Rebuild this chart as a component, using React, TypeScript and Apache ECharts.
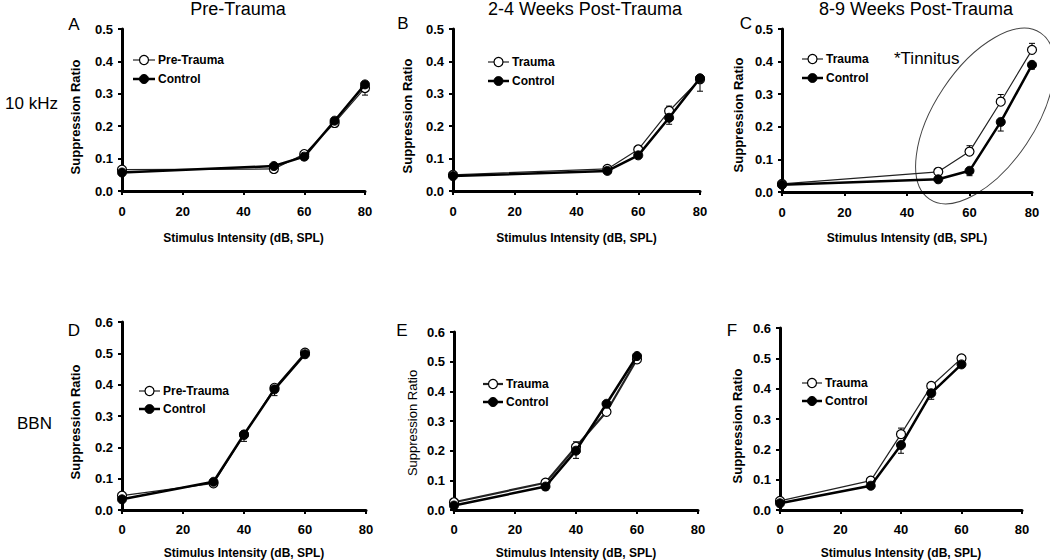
import React, { useEffect, useRef } from "react";
import * as echarts from "echarts";

// ---- data ----
const xTop = [0, 50, 60, 70, 80];
const xBottom = [0, 30, 40, 50, 60];

// Panel A (10 kHz, Pre-Trauma)
const aOpen = [0.066, 0.068, 0.114, 0.21, 0.318];
const aFilled = [0.057, 0.077, 0.106, 0.217, 0.329];
const aOpenErr = [0, 0, 0, -0.012, -0.022];
const aFilledErr = [0, 0, -0.01, 0, 0];

// Panel B (10 kHz, 2-4 weeks)
const bOpen = [0.05, 0.068, 0.128, 0.247, 0.345];
const bFilled = [0.046, 0.062, 0.11, 0.226, 0.348];
const bOpenErr = [0, 0, 0.008, 0.015, 0];
const bFilledErr = [0, 0, 0, -0.02, -0.04];

// Panel C (10 kHz, 8-9 weeks)
const cOpen = [0.025, 0.062, 0.124, 0.277, 0.436];
const cFilled = [0.022, 0.039, 0.065, 0.215, 0.39];
const cOpenErr = [0, 0, 0.018, 0.022, 0.02];
const cFilledErr = [0, 0, -0.015, -0.028, -0.013];

// Panel D (BBN, Pre-Trauma)
const dOpen = [0.046, 0.085, 0.24, 0.39, 0.502];
const dFilled = [0.034, 0.09, 0.241, 0.385, 0.497];
const dOpenErr = [0, 0, 0, 0, 0];
const dFilledErr = [0, 0, -0.022, -0.02, 0];

// Panel E (BBN, 2-4 weeks)
const eOpen = [0.026, 0.092, 0.213, 0.331, 0.508];
const eFilled = [0.015, 0.079, 0.2, 0.358, 0.519];
const eOpenErr = [0, 0, 0.017, 0, 0];
const eFilledErr = [0, -0.012, -0.026, 0, 0];

// Panel F (BBN, 8-9 weeks)
const fOpen = [0.03, 0.097, 0.25, 0.409, 0.5];
const fFilled = [0.022, 0.08, 0.214, 0.385, 0.48];
const fOpenErr = [0, 0, 0.02, 0, 0];
const fFilledErr = [0, 0, -0.027, -0.02, -0.01];

const xTickInterval = 20;
const xMax = 80;
const yMaxTop = 0.5;
const yMaxBottom = 0.6;
const yTickInterval = 0.1;

const columnTitles = ["Pre-Trauma", "2-4 Weeks Post-Trauma", "8-9 Weeks Post-Trauma"];
const rowTitles = ["10 kHz", "BBN"];
const panelLetters = ["A", "B", "C", "D", "E", "F"];
const openNames = ["Pre-Trauma", "Trauma", "Trauma", "Pre-Trauma", "Trauma", "Trauma"];
const filledName = "Control";
const yTitle = "Suppression Ratio";
const xTitle = "Stimulus Intensity (dB, SPL)";
const noteText = "*Tinnitus";

// ---- layout ----
const FONT = "'Liberation Sans', Arial, Helvetica, sans-serif";
const grids = [
  { left: 122, top: 29, width: 243, height: 162 },
  { left: 453, top: 29, width: 247, height: 162 },
  { left: 782, top: 29, width: 250, height: 163 },
  { left: 122, top: 322, width: 244, height: 188 },
  { left: 454, top: 332, width: 244, height: 178 },
  { left: 780, top: 328, width: 242, height: 182 },
];
const letterPos = [
  [74, 24], [403, 23], [746, 23], [74, 330], [402, 330], [732, 330],
];
const yTitlePos = [
  [75, 117], [407, 116], [738, 115], [75, 422], [412, 423], [737, 426],
];
const legendPos = [
  // lineStart, textX, row1Y, row2Y
  [133, 158, 60, 79],
  [488, 512, 62, 81],
  [802, 826, 59, 78],
  [139, 163, 391, 409],
  [483, 506, 384, 402],
  [802, 825, 383, 401],
];

export default function App() {
  const ref = useRef<HTMLDivElement>(null);

  useEffect(() => {
    if (!ref.current) return;
    const chart = echarts.init(ref.current, undefined, { renderer: "svg" });

    const panels = [
      { x: xTop, open: aOpen, filled: aFilled, oe: aOpenErr, fe: aFilledErr, yMax: yMaxTop },
      { x: xTop, open: bOpen, filled: bFilled, oe: bOpenErr, fe: bFilledErr, yMax: yMaxTop },
      { x: xTop, open: cOpen, filled: cFilled, oe: cOpenErr, fe: cFilledErr, yMax: yMaxTop },
      { x: xBottom, open: dOpen, filled: dFilled, oe: dOpenErr, fe: dFilledErr, yMax: yMaxBottom },
      { x: xBottom, open: eOpen, filled: eFilled, oe: eOpenErr, fe: eFilledErr, yMax: yMaxBottom },
      { x: xBottom, open: fOpen, filled: fFilled, oe: fOpenErr, fe: fFilledErr, yMax: yMaxBottom },
    ];

    const axisLabel = {
      fontFamily: FONT,
      fontWeight: "bold" as const,
      fontSize: 13,
      color: "#000",
    };

    const xAxes = grids.map((g, i) => ({
      type: "value",
      gridIndex: i,
      min: 0,
      max: xMax,
      interval: xTickInterval,
      axisLine: { show: true, lineStyle: { color: "#000", width: 3 } },
      axisTick: { show: true, length: 4, lineStyle: { color: "#000", width: 2 } },
      axisLabel: { ...axisLabel, margin: i < 3 ? 14 : 13 },
      splitLine: { show: false },
    }));
    const yAxes = grids.map((g, i) => ({
      type: "value",
      gridIndex: i,
      min: 0,
      max: panels[i].yMax,
      interval: yTickInterval,
      axisLine: { show: true, lineStyle: { color: "#000", width: 3 } },
      axisTick: { show: true, length: 4, lineStyle: { color: "#000", width: 2 } },
      axisLabel: { ...axisLabel, margin: 9, formatter: (v: number) => v.toFixed(1) },
      splitLine: { show: false },
    }));

    const errRender = (params: any, api: any) => {
      const xv = api.value(0);
      const yv = api.value(1);
      const ev = api.value(2);
      const p0 = api.coord([xv, yv]);
      const p1 = api.coord([xv, yv + ev]);
      return {
        type: "group",
        children: [
          { type: "line", shape: { x1: p0[0], y1: p0[1], x2: p1[0], y2: p1[1] }, style: { stroke: "#000", lineWidth: 1 } },
          { type: "line", shape: { x1: p1[0] - 3, y1: p1[1], x2: p1[0] + 3, y2: p1[1] }, style: { stroke: "#000", lineWidth: 1 } },
        ],
      };
    };

    const series: any[] = [];
    panels.forEach((p, i) => {
      const openW = i === 4 ? 2.2 : 1.2;
      series.push({
        type: "custom",
        xAxisIndex: i,
        yAxisIndex: i,
        z: 1,
        silent: true,
        data: p.x.map((xv, k) => [xv, p.open[k], p.oe[k]]).filter((d) => d[2] !== 0),
        renderItem: errRender,
      });
      series.push({
        type: "custom",
        xAxisIndex: i,
        yAxisIndex: i,
        z: 1,
        silent: true,
        data: p.x.map((xv, k) => [xv, p.filled[k], p.fe[k]]).filter((d) => d[2] !== 0),
        renderItem: errRender,
      });
      series.push({
        name: openNames[i],
        type: "line",
        xAxisIndex: i,
        yAxisIndex: i,
        z: 2,
        data: p.x.map((xv, k) => [xv, p.open[k]]),
        symbol: "circle",
        symbolSize: 9,
        showAllSymbol: true,
        lineStyle: { color: "#222", width: openW },
        itemStyle: { color: "#fff", borderColor: "#000", borderWidth: 1.2 },
      });
      series.push({
        name: filledName,
        type: "line",
        xAxisIndex: i,
        yAxisIndex: i,
        z: 3,
        data: p.x.map((xv, k) => [xv, p.filled[k]]),
        symbol: "circle",
        symbolSize: 9,
        showAllSymbol: true,
        lineStyle: { color: "#000", width: 2.5 },
        itemStyle: { color: "#000", borderColor: "#000", borderWidth: 1 },
      });
    });

    const graphics: any[] = [];
    const colCenters = [238, 585, 916];
    columnTitles.forEach((t, i) => {
      graphics.push({
        type: "text",
        x: colCenters[i],
        y: 9,
        style: { text: t, font: `18px ${FONT}`, fill: "#000", align: "center", verticalAlign: "middle" },
      });
    });
    graphics.push({
      type: "text", x: 5, y: 103,
      style: { text: rowTitles[0], font: `17px ${FONT}`, fill: "#000", align: "left", verticalAlign: "middle" },
    });
    graphics.push({
      type: "text", x: 17, y: 423,
      style: { text: rowTitles[1], font: `17px ${FONT}`, fill: "#000", align: "left", verticalAlign: "middle" },
    });
    panelLetters.forEach((l, i) => {
      graphics.push({
        type: "text", x: letterPos[i][0], y: letterPos[i][1],
        style: { text: l, font: `17px ${FONT}`, fill: "#000", align: "center", verticalAlign: "middle" },
      });
    });
    yTitlePos.forEach((pos, i) => {
      graphics.push({
        type: "text", x: pos[0], y: pos[1], rotation: Math.PI / 2,
        style: {
          text: yTitle,
          font: i === 4 ? `13px ${FONT}` : `bold 13px ${FONT}`,
          fill: "#000", align: "center", verticalAlign: "middle",
        },
      });
    });
    grids.forEach((g, i) => {
      graphics.push({
        type: "text", x: g.left + g.width / 2, y: i < 3 ? 238 : 553,
        style: { text: xTitle, font: `bold 12px ${FONT}`, fill: "#000", align: "center", verticalAlign: "middle" },
      });
    });
    // legends
    legendPos.forEach((lp, i) => {
      const [lx, tx, r1, r2] = lp;
      const mid = (lx + tx - 3) / 2;
      graphics.push({ type: "line", shape: { x1: lx, y1: r1, x2: tx - 3, y2: r1 }, style: { stroke: "#222", lineWidth: i === 4 ? 2.2 : 1.2 } });
      graphics.push({ type: "circle", shape: { cx: mid, cy: r1, r: 4.5 }, style: { fill: "#fff", stroke: "#000", lineWidth: 1.2 } });
      graphics.push({
        type: "text", x: tx, y: r1,
        style: { text: openNames[i], font: `bold 12px ${FONT}`, fill: "#000", align: "left", verticalAlign: "middle" },
      });
      graphics.push({ type: "line", shape: { x1: lx, y1: r2, x2: tx - 3, y2: r2 }, style: { stroke: "#000", lineWidth: 2.5 } });
      graphics.push({ type: "circle", shape: { cx: mid, cy: r2, r: 4.5 }, style: { fill: "#000", stroke: "#000", lineWidth: 1 } });
      graphics.push({
        type: "text", x: tx, y: r2,
        style: { text: filledName, font: `bold 12px ${FONT}`, fill: "#000", align: "left", verticalAlign: "middle" },
      });
    });
    graphics.push({
      type: "text", x: 894, y: 58,
      style: { text: noteText, font: `17px ${FONT}`, fill: "#000", align: "left", verticalAlign: "middle" },
    });
    graphics.push({
      type: "ellipse", x: 985, y: 116, rotation: -0.588,
      shape: { cx: 0, cy: 0, rx: 50, ry: 100 },
      style: { fill: "none", stroke: "#444", lineWidth: 1 },
    });

    chart.setOption({
      animation: false,
      backgroundColor: "#fff",
      grid: grids.map((g) => ({ ...g, containLabel: false, outerBoundsMode: "none" })),
      xAxis: xAxes,
      yAxis: yAxes,
      series,
      graphic: graphics,
    });

    return () => chart.dispose();
  }, []);

  return (
    <div
      ref={ref}
      style={{ position: "absolute", left: 0, top: 0, width: 1050, height: 560 }}
    />
  );
}
